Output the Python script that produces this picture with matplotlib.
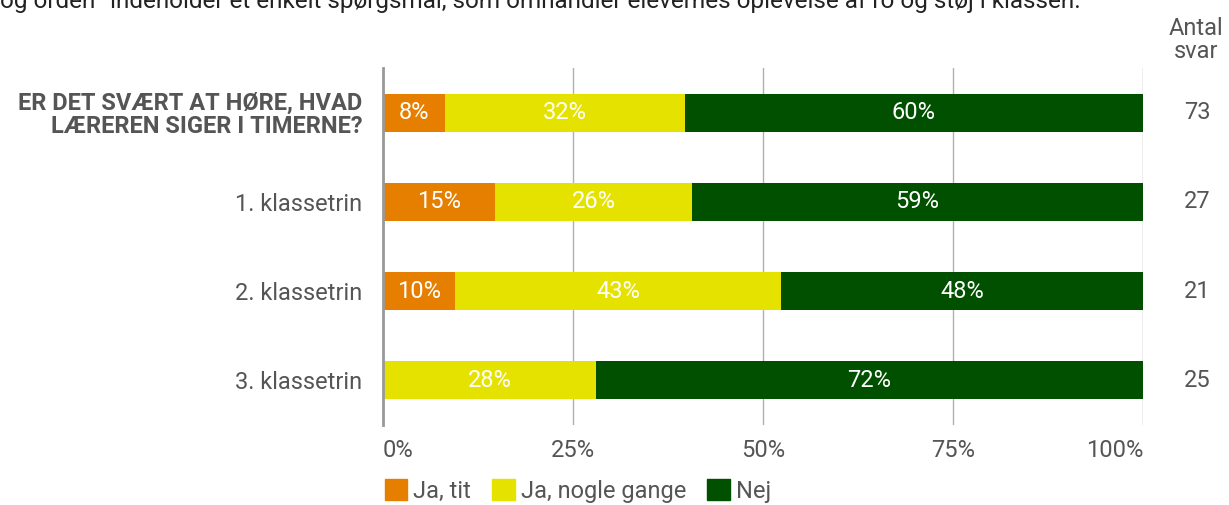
#!/usr/bin/env python
# -*- coding: utf-8 -*-

"""Stacked horizontal bars: hearing the teacher in class, by grade."""

import matplotlib
import matplotlib.pyplot as plt
from matplotlib.patches import Patch

matplotlib.use("Agg")

plt.rcParams["font.family"] = ["Roboto", "DejaVu Sans"]

categories = ["ER DET SVÆRT AT HØRE, HVAD\nLÆREREN SIGER I TIMERNE?",
              "1. klassetrin", "2. klassetrin", "3. klassetrin"]
series_names = ["Ja, tit", "Ja, nogle gange", "Nej"]
ja_tit = [8.2, 14.8, 9.5, 0.0]
ja_nogle = [31.5, 25.9, 42.9, 28.0]
nej = [60.3, 59.3, 47.6, 72.0]
antal_svar = [73, 27, 21, 25]
xticks = [0, 25, 50, 75, 100]

colors = ["#E67E00", "#E6E200", "#005000"]
text_color = "#555555"
fs = 17

fig = plt.figure(figsize=(12.29, 5.05), dpi=100)
ax = fig.add_axes([383 / 1229, 1 - 425 / 505, 760 / 1229, 357 / 505])

ypos = list(range(len(categories)))
left = [0.0] * len(categories)
for name, vals, col in zip(series_names, [ja_tit, ja_nogle, nej], colors):
    ax.barh(ypos, vals, left=left, height=0.425, color=col, zorder=3)
    for y, v, l in zip(ypos, vals, left):
        if v > 0:
            ax.text(l + v / 2, y, "%d%%" % round(v), ha="center",
                    va="center", color="white", fontsize=fs, zorder=4)
    left = [a + b for a, b in zip(left, vals)]

ax.set_xlim(0, 100)
ax.set_ylim(3.5, -0.5)
ax.set_xticks(xticks)
ax.set_xticklabels(["%d%%" % t for t in xticks])
ax.set_yticks(ypos)
ax.set_yticklabels(categories)
ax.tick_params(axis="x", length=0, pad=10, labelsize=fs,
               labelcolor=text_color)
ax.tick_params(axis="y", length=0, pad=15, labelsize=fs,
               labelcolor=text_color)
xlabels = ax.get_xticklabels()
xlabels[0].set_horizontalalignment("left")
xlabels[-1].set_horizontalalignment("right")
lbl = ax.get_yticklabels()[0]
lbl.set_fontweight("bold")
lbl.set_multialignment("right")
lbl.set_linespacing(1.0)

ax.grid(axis="x", color="#b0b0b0", linewidth=1, zorder=0)
for side in ["top", "right", "bottom"]:
    ax.spines[side].set_visible(False)
ax.spines["left"].set_color("#999999")
ax.spines["left"].set_linewidth(2)
ax.spines["left"].set_zorder(5)

# count column on the right
for y, n in zip(ypos, antal_svar):
    ax.text((1197 - 383) / 760, y, str(n), transform=ax.get_yaxis_transform(),
            ha="center", va="center", fontsize=fs, color=text_color)
fig.text(1196 / 1229, 1 - 40 / 505, "Antal\nsvar", ha="center",
         va="center", fontsize=fs, color=text_color, linespacing=1.05)

# the clipped line of text at the very top
fig.text(0.0, 1 - 8 / 505,
         "og orden\u201d indeholder et enkelt spørgsmål, som omhandler "
         "elevernes oplevelse af ro og støj i klassen.",
         ha="left", va="baseline", fontsize=17.5, color="#222222")

handles = [Patch(facecolor=c, edgecolor=c, label=n)
           for c, n in zip(colors, series_names)]
fig.legend(handles=handles, loc="center left",
           bbox_to_anchor=(373 / 1229, 1 - 491 / 505), ncol=3, frameon=False,
           fontsize=fs, labelcolor=text_color, handlelength=0.95,
           handleheight=0.95, handletextpad=0.25, columnspacing=0.9,
           borderpad=0)

fig.savefig("out.png", dpi=100)
